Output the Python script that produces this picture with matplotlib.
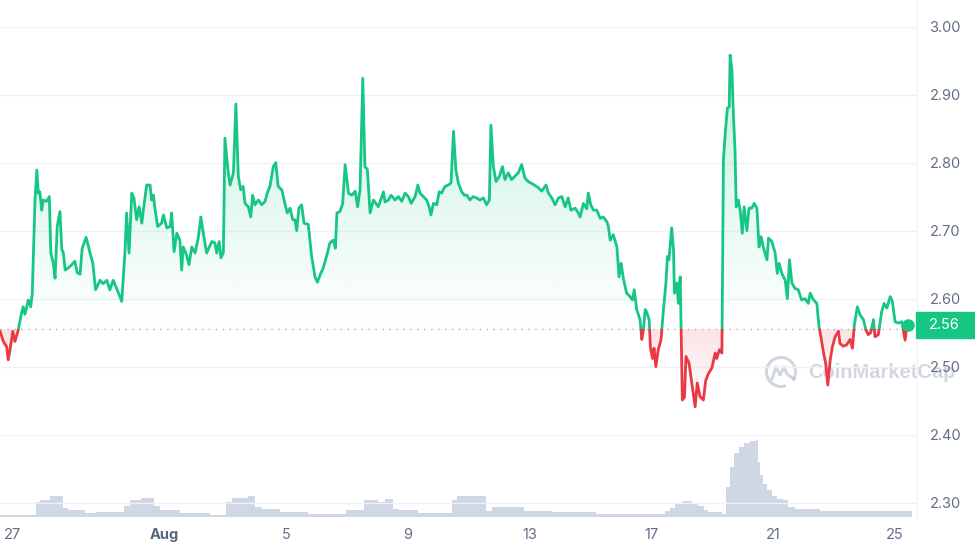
import matplotlib.pyplot as plt
import matplotlib.transforms as mtransforms
import numpy as np
from matplotlib.colors import to_rgb
from matplotlib.patches import Arc, Polygon, Rectangle

plt.rcParams['font.family'] = ['Inter', 'DejaVu Sans']

GREEN = '#16c784'
RED = '#ea3943'
GREY = '#616e85'

# price, days counted from 27 Jul 00:00
days = [
    -0.41, -0.30, -0.19, -0.14, -0.08, 0.01, 0.08, 0.18, 0.30, 0.35, 0.41, 0.52,
    0.60, 0.65, 0.74, 0.80, 0.85, 0.90, 0.96, 1.01, 1.12, 1.21, 1.26, 1.34,
    1.40, 1.47, 1.56, 1.62, 1.67, 1.73, 1.83, 1.95, 2.05, 2.13, 2.22, 2.29,
    2.42, 2.55, 2.64, 2.73, 2.88, 2.98, 3.10, 3.20, 3.31, 3.42, 3.53,
    3.59, 3.70, 3.75, 3.83, 3.92, 3.99, 4.08, 4.16, 4.25, 4.30, 4.41, 4.52,
    4.57, 4.63, 4.68, 4.77, 4.90, 4.96, 5.07, 5.18, 5.23, 5.31, 5.40, 5.50,
    5.56, 5.61, 5.72, 5.80, 5.89, 6.00, 6.11, 6.19, 6.27, 6.38, 6.55, 6.65,
    6.71, 6.79, 6.85, 6.93,
    6.98, 7.09, 7.15, 7.26, 7.34, 7.42, 7.50, 7.58, 7.64, 7.75, 7.83, 7.89,
    7.97, 8.08, 8.19, 8.30, 8.37, 8.46, 8.57, 8.65, 8.73, 8.85, 8.95, 9.03,
    9.12, 9.21, 9.28, 9.34, 9.41, 9.50, 9.58, 9.72, 9.83, 9.94, 10.02, 10.11,
    10.21, 10.33, 10.43, 10.54, 10.61,
    10.66, 10.76, 10.85, 10.93, 11.04, 11.15, 11.26, 11.34, 11.42, 11.51, 11.58,
    11.66, 11.75, 11.86, 12.02, 12.19, 12.24, 12.35, 12.44, 12.57, 12.68, 12.79,
    12.90, 13.01, 13.10, 13.23, 13.32, 13.39, 13.50, 13.61, 13.69, 13.75, 13.83,
    13.94, 14.02, 14.10, 14.21, 14.32, 14.41, 14.49, 14.57, 14.65, 14.76, 14.85,
    14.93, 15.03, 15.14, 15.25, 15.36, 15.47, 15.58, 15.67, 15.72, 15.80, 15.89,
    16.00, 16.10, 16.18, 16.29, 16.40, 16.51, 16.62, 16.73, 16.84, 16.95, 17.11,
    17.28, 17.39, 17.53, 17.61, 17.72, 17.83, 17.94, 18.05, 18.16, 18.26, 18.35,
    18.49, 18.59, 18.65,
    18.76, 18.87, 18.92, 19.00, 19.09, 19.20, 19.31, 19.41, 19.53, 19.58, 19.64,
    19.74, 19.86, 19.93, 20.00, 20.07, 20.18, 20.29, 20.37, 20.43, 20.51, 20.62,
    20.68, 20.73, 20.79, 20.84, 20.92, 20.96, 21.03, 21.08, 21.14, 21.22, 21.31,
    21.39, 21.47, 21.52, 21.57, 21.66, 21.72, 21.75, 21.83, 21.88, 21.94,
    22.01, 22.08, 22.13, 22.23, 22.32, 22.43, 22.50, 22.59, 22.70, 22.78, 22.87,
    22.98, 23.09, 23.14, 23.23, 23.31,
    23.36, 23.42, 23.49, 23.55, 23.58, 23.64, 23.69, 23.74, 23.78, 23.85, 23.91,
    23.98, 24.04, 24.13, 24.20, 24.29, 24.37, 24.46, 24.53, 24.60, 24.67, 24.79,
    24.84, 24.95, 25.06, 25.13, 25.19, 25.28, 25.39, 25.46, 25.53, 25.61, 25.71,
    25.82, 25.93,
    26.04, 26.15, 26.21, 26.32, 26.43, 26.50, 26.57, 26.65, 26.72, 26.79, 26.87,
    26.94, 27.03, 27.14, 27.19, 27.30, 27.41, 27.52, 27.60, 27.66, 27.76, 27.85,
    27.96, 28.04, 28.12, 28.20, 28.29, 28.34, 28.45, 28.56, 28.64, 28.73, 28.84,
    28.91, 29.00, 29.11, 29.22, 29.33, 29.39, 29.44,
]
prices = [
    2.552, 2.537, 2.529, 2.510, 2.525, 2.552, 2.537, 2.552, 2.579, 2.588, 2.577, 2.598,
    2.588, 2.608, 2.745, 2.789, 2.755, 2.757, 2.730, 2.745, 2.743, 2.750, 2.667, 2.652,
    2.630, 2.706, 2.728, 2.672, 2.668, 2.642, 2.645, 2.650, 2.655, 2.638, 2.636, 2.674,
    2.690, 2.667, 2.652, 2.613, 2.627, 2.622, 2.627, 2.613, 2.627, 2.615, 2.603,
    2.596, 2.672, 2.726, 2.667, 2.755, 2.748, 2.716, 2.735, 2.711, 2.730, 2.767, 2.767,
    2.745, 2.752, 2.733, 2.706, 2.711, 2.723, 2.704, 2.706, 2.726, 2.669, 2.696, 2.686,
    2.642, 2.676, 2.664, 2.650, 2.676, 2.667, 2.691, 2.720, 2.696, 2.667, 2.684, 2.682,
    2.667, 2.684, 2.660, 2.668,
    2.836, 2.785, 2.767, 2.785, 2.886, 2.780, 2.760, 2.765, 2.740, 2.735, 2.720, 2.752,
    2.738, 2.745, 2.738, 2.743, 2.755, 2.765, 2.794, 2.800, 2.765, 2.760, 2.740, 2.726,
    2.733, 2.716, 2.716, 2.700, 2.733, 2.738, 2.711, 2.709, 2.662, 2.632, 2.624, 2.635,
    2.645, 2.664, 2.682, 2.686, 2.674,
    2.726, 2.728, 2.740, 2.797, 2.755, 2.752, 2.758, 2.735, 2.760, 2.924, 2.794,
    2.790, 2.726, 2.745, 2.735, 2.757, 2.742, 2.745, 2.752, 2.745, 2.750, 2.743,
    2.755, 2.750, 2.740, 2.750, 2.767, 2.755, 2.750, 2.745, 2.735, 2.723, 2.740,
    2.738, 2.757, 2.755, 2.765, 2.767, 2.770, 2.846, 2.789, 2.770, 2.757, 2.752,
    2.752, 2.745, 2.750, 2.748, 2.745, 2.748, 2.738, 2.745, 2.855, 2.794, 2.772,
    2.780, 2.794, 2.775, 2.785, 2.775, 2.780, 2.785, 2.797, 2.777, 2.772, 2.768,
    2.763, 2.758, 2.767, 2.755, 2.748, 2.738, 2.748, 2.750, 2.735, 2.748, 2.730,
    2.733, 2.726, 2.720,
    2.740, 2.732, 2.755, 2.738, 2.730, 2.730, 2.718, 2.720, 2.713, 2.706, 2.686,
    2.694, 2.676, 2.632, 2.652, 2.630, 2.608, 2.603, 2.598, 2.613, 2.584, 2.569,
    2.540, 2.554, 2.584, 2.580, 2.569, 2.529, 2.512, 2.527, 2.500, 2.525, 2.540,
    2.584, 2.623, 2.662, 2.657, 2.704, 2.672, 2.608, 2.623, 2.593, 2.632,
    2.451, 2.455, 2.515, 2.505, 2.476, 2.441, 2.476, 2.456, 2.451, 2.480, 2.490,
    2.498, 2.520, 2.512, 2.525, 2.520,
    2.804, 2.843, 2.880, 2.882, 2.958, 2.936, 2.868, 2.819, 2.735, 2.745, 2.730,
    2.696, 2.735, 2.700, 2.733, 2.733, 2.740, 2.733, 2.676, 2.691, 2.676, 2.657,
    2.689, 2.684, 2.667, 2.637, 2.652, 2.637, 2.627, 2.600, 2.657, 2.623, 2.615,
    2.613, 2.598,
    2.600, 2.593, 2.608, 2.598, 2.593, 2.559, 2.542, 2.520, 2.505, 2.473, 2.510,
    2.529, 2.544, 2.552, 2.534, 2.530, 2.532, 2.540, 2.527, 2.561, 2.588, 2.576,
    2.569, 2.554, 2.547, 2.550, 2.569, 2.544, 2.547, 2.581, 2.593, 2.586, 2.603,
    2.596, 2.566, 2.564, 2.566, 2.539, 2.560, 2.561,
]

# trading volume (millions), value holds until next change
vol_days = [
    -0.41, 0.77, 0.90, 1.23, 1.66, 1.82, 2.38, 2.74, 3.66, 3.86, 4.22, 4.65, 4.85,
    5.50, 6.49, 7.02, 7.21, 7.74, 7.97, 8.20, 8.79, 9.71, 10.96, 11.55, 12.01,
    12.24, 12.50, 12.70, 13.33, 14.44, 14.61, 15.56, 15.76, 16.81, 17.73, 19.18,
    21.44, 21.61, 21.77, 22.03, 22.33, 22.53, 22.73, 22.86, 23.32, 23.45, 23.58,
    23.71, 23.87, 24.04, 24.24, 24.43, 24.50, 24.56, 24.66, 24.79, 24.96, 25.12,
    25.32, 25.49, 25.72, 26.54, 29.56,
]
volume = [
    2.3, 14.7, 17.3, 21.3, 9.0, 7.3, 4.0, 5.3, 11.3, 17.3, 19.0, 10.7, 6.7,
    4.0, 2.3, 14.7, 19.0, 21.3, 10.0, 8.0, 4.7, 3.3, 6.7, 17.3, 15.0,
    18.0, 8.0, 6.7, 4.0, 17.3, 20.7, 5.7, 10.0, 5.7, 4.7, 3.3,
    6.0, 9.0, 13.0, 15.7, 14.0, 10.7, 7.0, 4.7, 3.3, 30.0, 50.0,
    64.0, 70.0, 74.0, 76.0, 77.0, 55.0, 42.0, 33.0, 27.0, 21.0, 18.0,
    17.0, 10.0, 8.0, 6.0, 6.0,
]

baseline = 2.555
last_label = '2.56'
tick_days = [0, 5, 9, 13, 17, 21, 25, 29]
tick_labels = ['27', 'Aug', '5', '9', '13', '17', '21', '25']
price_ticks = [2.30, 2.40, 2.50, 2.60, 2.70, 2.80, 2.90, 3.00]

assert len(days) == len(prices)
assert len(vol_days) == len(volume)

fig = plt.figure(figsize=(9.75, 5.54), dpi=100)
rect = [0, 0.0668, 0.9405, 0.9332]
xlim = (-0.41, 29.72)

# volume underneath
vax = fig.add_axes(rect)
vax.fill_between(vol_days, volume, step='post', color='#cfd6e4', lw=0)
vax.set_xlim(xlim)
vax.set_ylim(0, max(volume) * 6.74)
vax.axis('off')

ax = fig.add_axes(rect)
ax.set_facecolor('none')
x0, x1 = days[0], days[-1]

# gradient fills clipped to the area between price and baseline
area = Polygon([(x0, baseline)] + list(zip(days, prices)) + [(x1, baseline)],
               closed=True, facecolor='none', edgecolor='none')
ax.add_patch(area)


def gradient(color, a_bottom, a_top):
    n = 256
    img = np.zeros((n, 1, 4))
    img[:, :, :3] = to_rgb(color)
    img[:, 0, 3] = np.linspace(a_bottom, a_top, n)
    return img


im_g = ax.imshow(gradient(GREEN, 0.0, 0.25), extent=[x0, x1, baseline, max(prices)],
                 origin='lower', aspect='auto', zorder=1)
im_g.set_clip_path(area)
im_r = ax.imshow(gradient(RED, 0.0, 0.14), extent=[x0, x1, min(prices), baseline],
                 origin='lower', aspect='auto', zorder=1)
im_r.set_clip_path(area)

line_g, = ax.plot(days, prices, color=GREEN, lw=2.0, zorder=3)
line_g.set_clip_path(Rectangle((x0 - 1, baseline), 40, 2, transform=ax.transData))
line_r, = ax.plot(days, prices, color=RED, lw=2.0, zorder=3)
line_r.set_clip_path(Rectangle((x0 - 1, baseline - 2), 40, 2, transform=ax.transData))

ax.axhline(baseline, color='#a6b0c3', lw=1, ls=(0, (1, 4)), zorder=2)
ax.plot(days[-1], prices[-1], 'o', ms=8, color=GREEN, zorder=4, clip_on=False)

ax.set_xlim(xlim)
ax.set_ylim(2.279, 3.039)
ax.set_yticks(price_ticks)
ax.yaxis.set_major_formatter(plt.FormatStrFormatter('%.2f'))
ax.yaxis.tick_right()
ax.grid(axis='y', color='#eff2f5', lw=1)
ax.set_axisbelow(True)
ax.tick_params(axis='y', length=0, pad=9, labelsize=10.5, labelcolor=GREY)
ax.set_xticks(tick_days, tick_labels)
ax.tick_params(axis='x', length=0, pad=8, labelsize=10.5, labelcolor=GREY)
aug = ax.get_xticklabels()[1]
aug.set_fontweight('bold')
aug.set_color('#58667e')
for side in ['top', 'left', 'bottom']:
    ax.spines[side].set_visible(False)
ax.spines['right'].set_color('#eff2f5')

# current price tag
trans = mtransforms.blended_transform_factory(ax.transAxes, ax.transData)
ax.add_patch(Rectangle((0.999, prices[-1] - 0.019), 0.066, 0.038, transform=trans,
                       color=GREEN, clip_on=False, zorder=5))
ax.text(1.013, prices[-1], last_label, transform=trans, color='white', fontsize=10.5,
        va='center', ha='left', zorder=6, clip_on=False)

# watermark
WM = '#b4bccb'
fig.text(0.8287, 0.3285, 'CoinMarketCap', fontsize=14.5, color=WM, alpha=0.6,
         va='center', ha='left', fontweight='semibold', zorder=-1,
         family=['Liberation Sans', 'DejaVu Sans'])
fig.add_artist(Arc((7.81, 1.82), 0.29, 0.29, theta1=-35, theta2=290,
                   transform=fig.dpi_scale_trans, color=WM, alpha=0.6, lw=2.2, zorder=-1))
wx = np.array([-0.09, -0.05, -0.01, 0.03, 0.06, 0.13]) + 7.81
wy = np.array([-0.07, 0.05, -0.03, 0.05, -0.02, -0.07]) + 1.82
fig.add_artist(plt.Line2D(wx, wy, transform=fig.dpi_scale_trans, color=WM,
                          alpha=0.6, lw=2.2, zorder=-1, solid_joinstyle='round'))

fig.savefig('out.png', dpi=100)
